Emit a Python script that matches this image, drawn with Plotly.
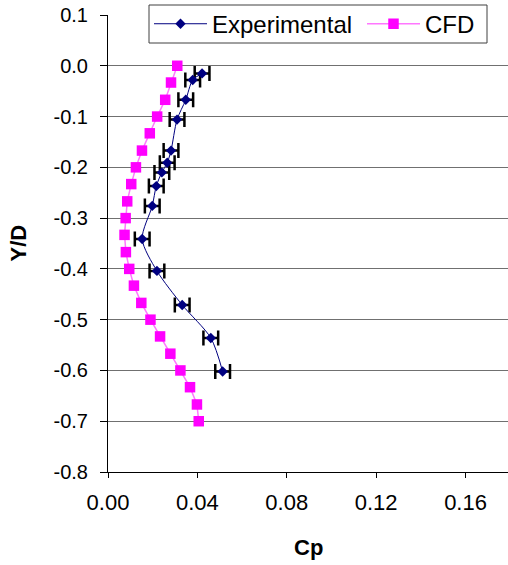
import plotly.graph_objects as go

# Experimental data
exp_y = [-0.015, -0.028, -0.067, -0.106, -0.167, -0.191, -0.210, -0.237,
         -0.276, -0.341, -0.404, -0.471, -0.536, -0.602]
exp_cp = [0.0421, 0.0379, 0.0348, 0.0309, 0.0282, 0.0265, 0.0241, 0.0216,
          0.0198, 0.0153, 0.0219, 0.0332, 0.0460, 0.0513]
exp_err = [0.0033] * len(exp_cp)

# CFD data
cfd_y = [0.0, -0.033, -0.067, -0.100, -0.133, -0.167, -0.200, -0.233,
         -0.267, -0.300, -0.333, -0.367, -0.400, -0.433, -0.467, -0.500,
         -0.533, -0.567, -0.600, -0.633, -0.667, -0.700]
cfd_cp = [0.0310, 0.0282, 0.0256, 0.0220, 0.0187, 0.0152, 0.0125, 0.0104,
          0.0086, 0.0079, 0.0074, 0.0080, 0.0095, 0.0116, 0.0149, 0.0190,
          0.0233, 0.0279, 0.0324, 0.0367, 0.0398, 0.0406]

x_ticks = [0.0, 0.04, 0.08, 0.12, 0.16]
x_ticklabels = ["0.00", "0.04", "0.08", "0.12", "0.16"]
y_ticks = [0.1, 0.0, -0.1, -0.2, -0.3, -0.4, -0.5, -0.6, -0.7, -0.8]
y_ticklabels = ["0.1", "0.0", "-0.1", "-0.2", "-0.3", "-0.4", "-0.5", "-0.6", "-0.7", "-0.8"]

FONT = "Liberation Sans, Arial, sans-serif"

fig = go.Figure()
fig.add_trace(go.Scatter(
    x=exp_cp, y=exp_y, name="Experimental", mode="lines+markers",
    line=dict(color="#000080", width=1, shape="spline", smoothing=0.8),
    marker=dict(symbol="diamond", size=8, color="#000080"),
    error_x=dict(type="data", array=exp_err, visible=True, color="black",
                 thickness=2.5, width=7.5),
    legend="legend",
))
fig.add_trace(go.Scatter(
    x=cfd_cp, y=cfd_y, name="CFD", mode="lines+markers",
    line=dict(color="#ff77ff", width=1.5),
    marker=dict(symbol="square", size=10.5, color="#ff00ff"),
    legend="legend2",
))

leg_common = dict(
    orientation="h", xanchor="left", yanchor="middle",
    bgcolor="rgba(0,0,0,0)", borderwidth=0,
    font=dict(size=24, family=FONT, color="black"),
    itemwidth=53,
)

fig.update_layout(
    width=508, height=565,
    margin=dict(l=108, r=0, t=15, b=93),
    paper_bgcolor="white", plot_bgcolor="white",
    font=dict(family=FONT, color="black"),
    showlegend=True,
    legend=dict(x=0.1025, y=0.980, **leg_common),
    legend2=dict(x=0.635, y=0.980, **leg_common),
    shapes=[dict(type="rect", xref="paper", yref="paper",
                 x0=(149 - 108) / 400, x1=(487 - 108) / 400,
                 y0=(472 - 43) / 457, y1=(472 - 5) / 457,
                 line=dict(color="#404040", width=1), fillcolor="white",
                 layer="above")],
    xaxis=dict(
        range=[0, 0.179], tickvals=x_ticks, ticktext=x_ticklabels,
        showgrid=False, zeroline=False, showline=True, linecolor="black",
        linewidth=1, ticks="outside", ticklen=5, tickcolor="black",
        tickfont=dict(size=22, family=FONT, color="black"),
        ticklabelstandoff=6,
    ),
    yaxis=dict(
        range=[-0.8, 0.1], tickvals=y_ticks, ticktext=y_ticklabels,
        showgrid=True, gridcolor="#707070", gridwidth=1,
        zeroline=False, showline=True, linecolor="black", linewidth=1,
        ticks="outside", ticklen=7, tickcolor="black",
        tickfont=dict(size=20, family=FONT, color="black"),
        ticklabelstandoff=8,
    ),
    annotations=[
        dict(text="<b>Cp</b>", xref="paper", yref="paper", x=0.5, y=-0.165,
             xanchor="center", yanchor="middle", showarrow=False,
             font=dict(size=22, family=FONT, color="black")),
        dict(text="<b>Y/D</b>", xref="paper", yref="paper", x=-0.225, y=0.5,
             xanchor="center", yanchor="middle", showarrow=False, textangle=-90,
             font=dict(size=22, family=FONT, color="black")),
    ],
)

fig.write_html("out.html")
